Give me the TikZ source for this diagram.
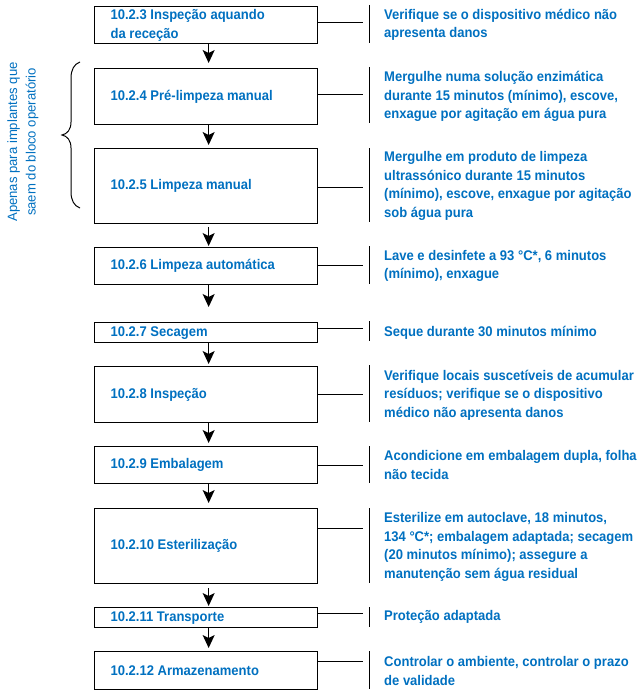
\documentclass[tikz,border=0pt]{standalone}
\usepackage{fontspec}
\setmainfont{Liberation Sans}[FakeStretch=0.93]
\newfontfamily\notefont{Liberation Sans}[FakeStretch=0.97]
\usetikzlibrary{arrows.meta}
\definecolor{txtblue}{HTML}{0070C0}
\begin{document}
\begin{tikzpicture}[x=1pt,y=-1pt,
  stepbox/.style={draw, line width=1.3pt, anchor=north west, text width=191pt, align=flush left,
    inner xsep=16pt, inner ysep=0pt, font=\bfseries\fontsize{14}{18.5}\selectfont, text=txtblue},
  desc/.style={anchor=west, align=left, inner sep=0pt, font=\bfseries\fontsize{14}{18.5}\selectfont, text=txtblue},
  flow/.style={-{Stealth[length=13pt,width=12pt,inset=3pt]}, line width=1.3pt},
  conn/.style={line width=1pt},
  bar/.style={line width=1pt}]
\useasboundingbox (0,0) rectangle (638,690);

% step boxes
\node[stepbox, minimum height=37pt] (b3) at (94,6) {10.2.3 Inspeção aquando\\da receção};
\node[stepbox, minimum height=56pt] (b4) at (94,68) {10.2.4 Pré-limpeza manual};
\node[stepbox, minimum height=75pt] (b5) at (94,148) {10.2.5 Limpeza manual};
\node[stepbox, minimum height=37pt] (b6) at (94,247) {10.2.6 Limpeza automática};
\node[stepbox, minimum height=20pt] (b7) at (94,322) {10.2.7 Secagem};
\node[stepbox, minimum height=56pt] (b8) at (94,366) {10.2.8 Inspeção};
\node[stepbox, minimum height=37pt] (b9) at (94,446) {10.2.9 Embalagem};
\node[stepbox, minimum height=75pt] (b10) at (94,508) {10.2.10 Esterilização};
\node[stepbox, minimum height=20pt] (b11) at (94,607) {10.2.11 Transporte};
\node[stepbox, minimum height=38pt] (b12) at (94,651) {10.2.12 Armazenamento};

% descriptions
\node[desc] (d3) at (384,25) {Verifique se o dispositivo médico não\\apresenta danos};
\node[desc] (d4) at (384,96.5) {Mergulhe numa solução enzimática\\durante 15 minutos (mínimo), escove,\\enxague por agitação em água pura};
\node[desc] (d5) at (384,186) {Mergulhe em produto de limpeza\\ultrassónico durante 15 minutos\\(mínimo), escove, enxague por agitação\\sob água pura};
\node[desc] (d6) at (384,266) {Lave e desinfete a 93 °C*, 6 minutos\\(mínimo), enxague};
\node[desc] (d7) at (384,333) {Seque durante 30 minutos mínimo};
\node[desc] (d8) at (384,395) {Verifique locais suscetíveis de acumular\\resíduos; verifique se o dispositivo\\médico não apresenta danos};
\node[desc] (d9) at (384,465) {Acondicione em embalagem dupla, folha\\não tecida};
\node[desc] (d10) at (384,547) {Esterilize em autoclave, 18 minutos,\\134 °C*; embalagem adaptada; secagem\\(20 minutos mínimo); assegure a\\manutenção sem água residual};
\node[desc] (d11) at (384,617) {Proteção adaptada};
\node[desc] (d12) at (384,671) {Controlar o ambiente, controlar o prazo\\de validade};

% flow arrows
\draw[flow, shorten >=5pt] ([xshift=2.5pt]b3.south) -- ([xshift=2.5pt]b4.north);
\draw[flow, shorten >=3pt] ([xshift=2.5pt]b4.south) -- ([xshift=2.5pt]b5.north);
\draw[flow, shorten <=3pt, shorten >=1pt] ([xshift=2.5pt]b5.south) -- ([xshift=2.5pt]b6.north);
\draw[flow, shorten >=15pt] ([xshift=2.5pt]b6.south) -- ([xshift=2.5pt]b7.north);
\draw[flow, shorten >=2pt] ([xshift=2.5pt]b7.south) -- ([xshift=2.5pt]b8.north);
\draw[flow, shorten >=3pt] ([xshift=2.5pt]b8.south) -- ([xshift=2.5pt]b9.north);
\draw[flow, shorten >=5pt] ([xshift=2.5pt]b9.south) -- ([xshift=2.5pt]b10.north);
\draw[flow, shorten <=4pt, shorten >=1pt] ([xshift=2.5pt]b10.south) -- ([xshift=2.5pt]b11.north);
\draw[flow, shorten >=3pt] ([xshift=2.5pt]b11.south) -- ([xshift=2.5pt]b12.north);

% connectors to descriptions
\draw[conn] (b3.east |- 0,23) -- (363,23);
\draw[conn] (b4.east |- 0,95) -- (363,95);
\draw[conn] (b5.east |- 0,187) -- (363,187);
\draw[conn] (b6.east |- 0,265) -- (363,265);
\draw[conn] (b7.east |- 0,328) -- (363,328);
\draw[conn] (b8.east |- 0,394) -- (363,394);
\draw[conn] (b9.east |- 0,465) -- (363,465);
\draw[conn] (b10.east |- 0,528) -- (363,528);
\draw[conn] (b11.east |- 0,613) -- (363,613);
\draw[conn] (b12.east |- 0,661) -- (363,661);

% bars
\draw[bar] (369,5) -- (369,43);
\draw[bar] (369,67) -- (369,123);
\draw[bar] (369,148) -- (369,222);
\draw[bar] (369,246) -- (369,284);
\draw[bar] (369,321) -- (369,341);
\draw[bar] (369,365) -- (369,422);
\draw[bar] (369,446) -- (369,483);
\draw[bar] (369,508) -- (369,583);
\draw[bar] (369,607) -- (369,627);
\draw[bar] (369,651) -- (369,689);

% brace and note
\draw[line width=1pt] (80,62) .. controls (74,64) and (71,70) .. (71,78) -- (71,122)
  .. controls (71,130) and (67,134) .. (62,135)
  .. controls (67,136) and (71,140) .. (71,148) -- (71,192)
  .. controls (71,200) and (74,206) .. (80,208);
\node[rotate=90, align=center, inner sep=0pt, font=\notefont\fontsize{13.5}{18.5}\selectfont, text=txtblue] (note) at (23,142) {Apenas para implantes que\\saem do bloco operatório};
\end{tikzpicture}
\end{document}
